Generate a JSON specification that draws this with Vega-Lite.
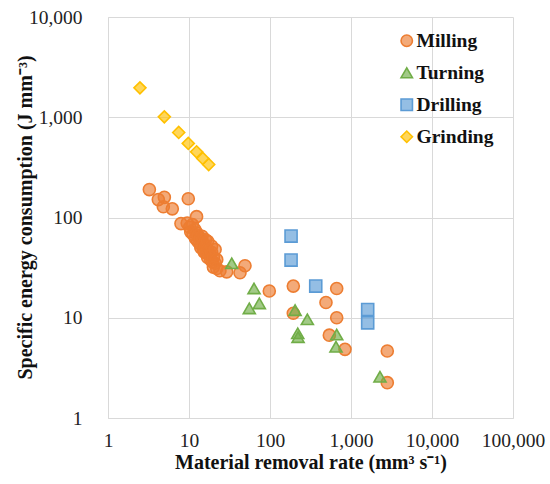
{
  "$schema": "https://vega.github.io/schema/vega-lite/v6.json",
  "width": 405,
  "height": 401,
  "autosize": {"type": "none"},
  "padding": {"left": 108, "top": 17, "right": 37, "bottom": 66},
  "background": "white",
  "config": {
    "view": {"stroke": null},
    "font": "Liberation Serif"
  },
  "data": {
    "values": [
      {"process": "Milling", "mrr": 3.24, "sec": 190},
      {"process": "Milling", "mrr": 4.18, "sec": 151},
      {"process": "Milling", "mrr": 4.96, "sec": 159},
      {"process": "Milling", "mrr": 4.82, "sec": 128},
      {"process": "Milling", "mrr": 6.22, "sec": 122},
      {"process": "Milling", "mrr": 9.8, "sec": 154},
      {"process": "Milling", "mrr": 12.4, "sec": 102},
      {"process": "Milling", "mrr": 7.96, "sec": 87},
      {"process": "Milling", "mrr": 9.5, "sec": 88},
      {"process": "Milling", "mrr": 10.2, "sec": 80},
      {"process": "Milling", "mrr": 10.5, "sec": 72},
      {"process": "Milling", "mrr": 11, "sec": 85},
      {"process": "Milling", "mrr": 11.2, "sec": 68},
      {"process": "Milling", "mrr": 11.8, "sec": 76},
      {"process": "Milling", "mrr": 12, "sec": 62},
      {"process": "Milling", "mrr": 12.5, "sec": 70},
      {"process": "Milling", "mrr": 12.8, "sec": 58},
      {"process": "Milling", "mrr": 13, "sec": 66},
      {"process": "Milling", "mrr": 13.5, "sec": 55},
      {"process": "Milling", "mrr": 13.8, "sec": 62},
      {"process": "Milling", "mrr": 14, "sec": 50},
      {"process": "Milling", "mrr": 14.5, "sec": 58},
      {"process": "Milling", "mrr": 14.5, "sec": 65},
      {"process": "Milling", "mrr": 15, "sec": 48},
      {"process": "Milling", "mrr": 15, "sec": 54},
      {"process": "Milling", "mrr": 15.5, "sec": 45},
      {"process": "Milling", "mrr": 16, "sec": 52},
      {"process": "Milling", "mrr": 16, "sec": 60},
      {"process": "Milling", "mrr": 16.5, "sec": 44},
      {"process": "Milling", "mrr": 17, "sec": 48},
      {"process": "Milling", "mrr": 17, "sec": 40},
      {"process": "Milling", "mrr": 17, "sec": 58},
      {"process": "Milling", "mrr": 18, "sec": 43},
      {"process": "Milling", "mrr": 18.5, "sec": 38},
      {"process": "Milling", "mrr": 19, "sec": 45},
      {"process": "Milling", "mrr": 19, "sec": 52},
      {"process": "Milling", "mrr": 19.5, "sec": 36},
      {"process": "Milling", "mrr": 20, "sec": 40},
      {"process": "Milling", "mrr": 21, "sec": 35},
      {"process": "Milling", "mrr": 21, "sec": 48},
      {"process": "Milling", "mrr": 22, "sec": 38},
      {"process": "Milling", "mrr": 20, "sec": 32},
      {"process": "Milling", "mrr": 22, "sec": 31},
      {"process": "Milling", "mrr": 24.1, "sec": 29.4},
      {"process": "Milling", "mrr": 29.2, "sec": 28.7},
      {"process": "Milling", "mrr": 42.6, "sec": 28.1},
      {"process": "Milling", "mrr": 49.1, "sec": 33},
      {"process": "Milling", "mrr": 98, "sec": 18.5},
      {"process": "Milling", "mrr": 194, "sec": 20.7},
      {"process": "Milling", "mrr": 194, "sec": 11.1},
      {"process": "Milling", "mrr": 666, "sec": 19.6},
      {"process": "Milling", "mrr": 491, "sec": 14.2},
      {"process": "Milling", "mrr": 666, "sec": 10},
      {"process": "Milling", "mrr": 540, "sec": 6.7},
      {"process": "Milling", "mrr": 843, "sec": 4.84},
      {"process": "Milling", "mrr": 2805, "sec": 4.66},
      {"process": "Milling", "mrr": 2805, "sec": 2.25},
      {"process": "Turning", "mrr": 33.7, "sec": 34.9},
      {"process": "Turning", "mrr": 63.5, "sec": 19.6},
      {"process": "Turning", "mrr": 73.8, "sec": 13.9},
      {"process": "Turning", "mrr": 55.5, "sec": 12.4},
      {"process": "Turning", "mrr": 204, "sec": 11.9},
      {"process": "Turning", "mrr": 289, "sec": 9.64},
      {"process": "Turning", "mrr": 220, "sec": 7.0},
      {"process": "Turning", "mrr": 222, "sec": 6.4},
      {"process": "Turning", "mrr": 666, "sec": 6.8},
      {"process": "Turning", "mrr": 653, "sec": 5.14},
      {"process": "Turning", "mrr": 2280, "sec": 2.58},
      {"process": "Drilling", "mrr": 182, "sec": 37.6},
      {"process": "Drilling", "mrr": 182, "sec": 65.3},
      {"process": "Drilling", "mrr": 367, "sec": 20.7},
      {"process": "Drilling", "mrr": 1607, "sec": 12.1},
      {"process": "Drilling", "mrr": 1607, "sec": 8.9},
      {"process": "Grinding", "mrr": 2.48, "sec": 1964},
      {"process": "Grinding", "mrr": 4.96, "sec": 1009},
      {"process": "Grinding", "mrr": 7.46, "sec": 705},
      {"process": "Grinding", "mrr": 9.8, "sec": 548},
      {"process": "Grinding", "mrr": 12.4, "sec": 452},
      {"process": "Grinding", "mrr": 14.8, "sec": 388},
      {"process": "Grinding", "mrr": 17.5, "sec": 338}
    ]
  },
  "mark": {"type": "point", "filled": true, "size": 145, "fillOpacity": 0.65, "strokeWidth": 1.6, "strokeOpacity": 1},
  "encoding": {
    "x": {
      "field": "mrr", "type": "quantitative",
      "scale": {"type": "log", "domain": [1, 100000], "nice": false},
      "axis": {
        "title": "Material removal rate (mm³ s⁻¹)",
        "values": [1, 10, 100, 1000, 10000, 100000],
        "format": ",d",
        "labelFont": "Liberation Serif", "labelFontSize": 19.5, "labelColor": "#222",
        "labelPadding": 13, "ticks": false, "labelFlush": false, "labelOverlap": false,
        "titleFont": "Liberation Serif", "titleFontSize": 20, "titleFontWeight": "bold",
        "titleColor": "#111", "titlePadding": 3,
        "grid": true, "gridColor": "#D9D9D9", "domainColor": "#D9D9D9"
      }
    },
    "y": {
      "field": "sec", "type": "quantitative",
      "scale": {"type": "log", "domain": [1, 10000], "nice": false},
      "axis": {
        "title": "Specific energy consumption (J mm⁻³)",
        "values": [1, 10, 100, 1000, 10000],
        "format": ",d",
        "labelFont": "Liberation Serif", "labelFontSize": 19.5, "labelColor": "#222",
        "labelPadding": 26, "ticks": false, "labelFlush": false, "labelOverlap": false,
        "titleFont": "Liberation Serif", "titleFontSize": 20, "titleFontWeight": "bold",
        "titleColor": "#111", "titleX": -77, "titleY": 200, "titleBaseline": "alphabetic",
        "grid": true, "gridColor": "#D9D9D9", "domainColor": "#D9D9D9"
      }
    },
    "fill": {
      "field": "process", "type": "nominal",
      "scale": {"domain": ["Milling", "Turning", "Drilling", "Grinding"], "range": ["#ED7D31", "#70AD47", "#5B9BD5", "#FFC000"]},
      "legend": {
        "title": null, "orient": "none", "legendX": 289, "legendY": 14,
        "labelFont": "Liberation Serif", "labelFontSize": 19.5, "labelFontWeight": "bold",
        "labelColor": "#111", "symbolSize": 130, "rowPadding": 11, "labelOffset": 0,
        "encode": {"symbols": {"update": {"fillOpacity": {"value": 0.65}, "strokeWidth": {"value": 1.6}}}}
      }
    },
    "stroke": {
      "field": "process", "type": "nominal",
      "scale": {"domain": ["Milling", "Turning", "Drilling", "Grinding"], "range": ["#ED7D31", "#70AD47", "#5B9BD5", "#FFC000"]}
    },
    "shape": {
      "field": "process", "type": "nominal",
      "scale": {"domain": ["Milling", "Turning", "Drilling", "Grinding"], "range": ["circle", "triangle-up", "square", "diamond"]}
    }
  }
}
